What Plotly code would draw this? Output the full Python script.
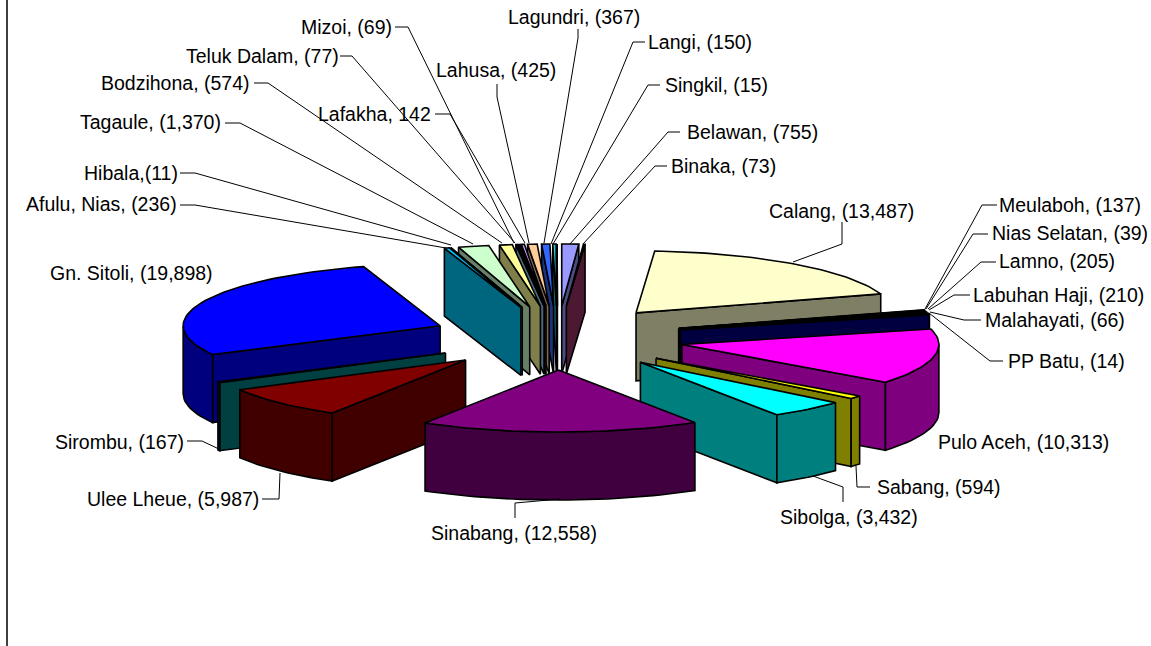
import math
import plotly.graph_objects as go

# ---- data (in drawing order round the pie, starting at 12 o'clock, clockwise)
names = ["Belawan", "Binaka", "Calang", "Meulaboh", "Nias Selatan", "Lamno", "Labuhan Haji",
         "Malahayati", "PP Batu", "Pulo Aceh", "Sabang", "Sibolga", "Sinabang", "Ulee Lheue",
         "Sirombu", "Gn. Sitoli", "Afulu, Nias", "Hibala", "Tagaule", "Bodzihona", "Teluk Dalam",
         "Mizoi", "Lafakha", "Lahusa", "Lagundri", "Langi", "Singkil"]
values = [755, 73, 13487, 137, 39, 205, 210, 66, 14, 10313, 594, 3432, 12558, 5987,
          167, 19898, 236, 11, 1370, 574, 77, 69, 142, 425, 367, 150, 15]
labels = ["Belawan, (755)", "Binaka, (73)", "Calang, (13,487)", "Meulaboh, (137)", "Nias Selatan, (39)",
          "Lamno, (205)", "Labuhan Haji, (210)", "Malahayati, (66)", "PP Batu, (14)",
          "Pulo Aceh, (10,313)", "Sabang, (594)", "Sibolga, (3,432)", "Sinabang, (12,558)",
          "Ulee Lheue, (5,987)", "Sirombu, (167)", "Gn. Sitoli, (19,898)", "Afulu, Nias, (236)",
          "Hibala,(11)", "Tagaule, (1,370)", "Bodzihona, (574)", "Teluk Dalam, (77)", "Mizoi, (69)",
          "Lafakha, 142", "Lahusa, (425)", "Lagundri, (367)", "Langi, (150)", "Singkil, (15)"]
colors = ["#9999FF", "#993366", "#FFFFCC", "#CCFFFF", "#660066", "#FF8080", "#0066CC", "#CCCCFF",
          "#000080", "#FF00FF", "#FFFF00", "#00FFFF", "#800080", "#800000", "#008080", "#0000FF",
          "#00CCFF", "#CCFFFF", "#CCFFCC", "#FFFF99", "#99CCFF", "#FF99CC", "#CC99FF", "#FFCC99",
          "#3366FF", "#33CCCC", "#99CC00"]

# ---- label placement: text centre, and leader polyline (None when the label has no leader)
label_pos = {
    "Belawan": (752, 132), "Binaka": (723, 166), "Calang": (841, 211), "Meulaboh": (1070, 205),
    "Nias Selatan": (1070, 233), "Lamno": (1057, 261), "Labuhan Haji": (1058, 295),
    "Malahayati": (1055, 320), "PP Batu": (1066, 361), "Pulo Aceh": (1023, 442),
    "Sabang": (939, 487), "Sibolga": (849, 517), "Sinabang": (514, 533), "Ulee Lheue": (173, 499),
    "Sirombu": (119, 442), "Gn. Sitoli": (131, 273), "Afulu, Nias": (101, 204), "Hibala": (131, 173),
    "Tagaule": (150, 122), "Bodzihona": (175, 83), "Teluk Dalam": (262, 56), "Mizoi": (346, 27),
    "Lafakha": (374, 114), "Lahusa": (496, 70), "Lagundri": (574, 17), "Langi": (700, 42),
    "Singkil": (716, 85),
}
leaders = {
    "Belawan": [(680, 132), (668, 132), (570, 244)],
    "Binaka": [(667, 166), (655, 166), (583, 244)],
    "Calang": [(842, 222), (842, 244), (793, 262)],
    "Meulaboh": [(997, 205), (982, 205), (925, 309)],
    "Nias Selatan": [(988, 234), (973, 234), (926, 309)],
    "Lamno": [(996, 262), (981, 262), (928, 309)],
    "Labuhan Haji": [(970, 295), (954, 295), (929, 310)],
    "Malahayati": [(981, 320), (964, 320), (930, 312)],
    "PP Batu": [(1003, 361), (990, 361), (929, 313)],
    "Sabang": [(870, 487), (857, 487), (856, 466)],
    "Sibolga": [(843, 502), (843, 487), (813, 476)],
    "Sinabang": [(515, 518), (515, 503), (560, 499)],
    "Ulee Lheue": [(262, 499), (279, 499), (280, 473)],
    "Sirombu": [(187, 441), (202, 441), (221, 450)],
    "Afulu, Nias": [(180, 205), (195, 205), (446, 248)],
    "Hibala": [(180, 173), (195, 173), (451, 245)],
    "Tagaule": [(225, 123), (240, 123), (473, 244)],
    "Bodzihona": [(254, 83), (268, 83), (502, 243)],
    "Teluk Dalam": [(340, 56), (352, 56), (515, 243)],
    "Mizoi": [(395, 27), (408, 27), (514, 243)],
    "Lafakha": [(435, 114), (450, 114), (525, 243)],
    "Lahusa": [(497, 84), (497, 97), (529, 243)],
    "Lagundri": [(578, 29), (578, 38), (544, 243)],
    "Langi": [(645, 42), (633, 42), (551, 244)],
    "Singkil": [(660, 85), (648, 85), (553, 244)],
}

# ---- pie projection
CX, CY = 557.5, 338      # pie centre
RX, RY = 257, 62         # projected radii
EX, EY = 127, 32         # explosion offset
H = 68                   # extrusion depth
LINE = 1.6

def half(c):
    r, g, b = int(c[1:3], 16), int(c[3:5], 16), int(c[5:7], 16)
    return f"rgb({r // 2},{g // 2},{b // 2})"

fig = go.Figure()

def face(pts, color):
    xs = [p[0] for p in pts] + [pts[0][0]]
    ys = [p[1] for p in pts] + [pts[0][1]]
    fig.add_trace(go.Scatter(x=xs, y=ys, mode="lines", fill="toself", fillcolor=color,
                             line=dict(color="black", width=LINE), hoverinfo="skip",
                             showlegend=False))

total = sum(values)
slices = []
cum = 0
for name, val, col in zip(names, values, colors):
    a = cum / total * 2 * math.pi
    cum += val
    b = cum / total * 2 * math.pi
    slices.append((name, a, b, col))

# painter's order: back slices first
slices.sort(key=lambda s: -math.cos((s[1] + s[2]) / 2))

for name, a, b, col in slices:
    m = (a + b) / 2
    ax, ay = CX + EX * math.sin(m), CY - EY * math.cos(m)
    rim = lambda t: (ax + RX * math.sin(t), ay - RY * math.cos(t))
    down = lambda p: (p[0], p[1] + H)
    n = max(2, int((b - a) / 0.03))
    arc = [rim(a + (b - a) * i / n) for i in range(n + 1)]
    dark = half(col)
    if math.sin(a) < 0:   # start cut face looks towards the viewer
        face([(ax, ay), arc[0], down(arc[0]), (ax, ay + H)], dark)
    if math.sin(b) > 0:   # end cut face looks towards the viewer
        face([(ax, ay), arc[-1], down(arc[-1]), (ax, ay + H)], dark)
    lo, hi = max(a, math.pi / 2), min(b, 3 * math.pi / 2)
    if hi > lo:           # outer wall, front part only
        k = max(2, int((hi - lo) / 0.03))
        wall = [rim(lo + (hi - lo) * i / k) for i in range(k + 1)]
        face(wall + [down(p) for p in reversed(wall)], dark)
    face([(ax, ay)] + arc, col)

# leaders
for name, pts in leaders.items():
    fig.add_trace(go.Scatter(x=[p[0] for p in pts], y=[p[1] for p in pts], mode="lines",
                             line=dict(color="black", width=1), hoverinfo="skip", showlegend=False))

# label text
for name, text in zip(names, labels):
    x, y = label_pos[name]
    fig.add_annotation(x=x, y=y, text=text, showarrow=False, xanchor="center", yanchor="middle",
                       font=dict(family="Liberation Sans, Arial, sans-serif", size=19.5, color="black"))

# chart-area edge at the left
fig.add_shape(type="line", x0=7, x1=7, y0=0, y1=646, line=dict(color="black", width=1.5))

fig.update_layout(width=1151, height=646, margin=dict(l=0, r=0, t=0, b=0),
                  paper_bgcolor="white", plot_bgcolor="white", showlegend=False,
                  xaxis=dict(range=[0, 1151], visible=False, fixedrange=True),
                  yaxis=dict(range=[646, 0], visible=False, fixedrange=True))
fig.write_html("out.html", config={"displayModeBar": False},
               post_script="document.body.style.margin='0';document.documentElement.style.overflow='hidden';")
